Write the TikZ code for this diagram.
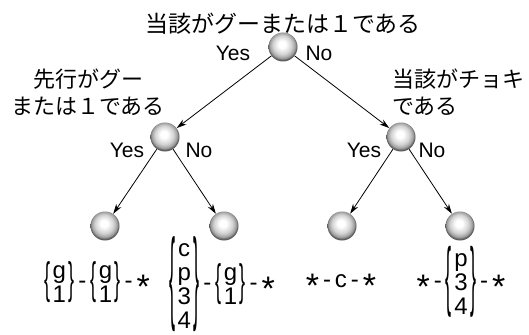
\documentclass[tikz,border=0pt]{standalone}
\usepackage{fontspec}
\usepackage{graphicx}
\setmainfont{Liberation Sans}
\newfontfamily\jp{Noto Sans CJK JP}
\usetikzlibrary{arrows.meta}

% soft grey sphere for the tree nodes
\pgfdeclareradialshading{sphere}{\pgfpoint{-2bp}{5bp}}{%
  color(0bp)=(white); color(6bp)=(white); color(16bp)=(gray!35);
  color(22bp)=(gray!75); color(25bp)=(black!65); color(50bp)=(black!65)}

% braced column of alternatives: #1 brace height, #2 rows
\newcommand{\brc}[2]{%
  $\vcenter{\hbox{\resizebox*{6pt}{#1}{\{}}}$%
  \raisebox{-3.6pt}{\begin{tabular}{@{\hspace{2.5pt}}c@{\hspace{2.5pt}}}#2\end{tabular}}%
  $\vcenter{\hbox{\resizebox*{6pt}{#1}{\}}}}$}
% hyphen separator and wildcard
\newcommand{\hy}{\hspace{4pt}-\hspace{4pt}}
\newcommand{\wild}{\raisebox{-10pt}{\fontsize{34}{34}\selectfont *}}

\begin{document}
\begin{tikzpicture}[x=1pt,y=-1pt,
  ball/.style={circle, minimum size=29pt, inner sep=0pt, shading=sphere},
  lbl/.style={font=\fontsize{21}{24}\selectfont, inner sep=0pt},
  jlbl/.style={font=\jp\fontsize{22}{27}\selectfont, inner sep=0pt},
  formula/.style={font=\fontsize{24}{24}\selectfont, inner sep=0pt, anchor=base},
  edge/.style={-{Stealth[length=10pt,width=6pt]}, line width=0.8pt}]
\useasboundingbox (0,0) rectangle (529,334);

% decision nodes
\node[ball] (root) at (283,47) {};
\node[ball] (L) at (165,137) {};
\node[ball] (R) at (401,137) {};
\node[ball] (LL) at (105,226) {};
\node[ball] (LR) at (224,226) {};
\node[ball] (RL) at (342,226) {};
\node[ball] (RR) at (460,226) {};

% branches
\draw[edge] (root) -- (L);
\draw[edge] (root) -- (R);
\draw[edge] (L) -- (LL);
\draw[edge] (L) -- (LR);
\draw[edge] (R) -- (RL);
\draw[edge] (R) -- (RR);

% questions
\node[jlbl, font=\jp\fontsize{23}{27}\selectfont] (q0) at (283,24) {当該がグーまたは１である};
\node[jlbl, align=center] (q1) at (88,92) {先行がグー\\または１である};
\node[jlbl, align=left, anchor=west] (q2) at (392,92) {当該がチョキ\\である};

% branch labels
\node[lbl] (y0) at (233,53) {Yes};
\node[lbl] (n0) at (319,53) {No};
\node[lbl] (y1) at (127,150) {Yes};
\node[lbl] (n1) at (199,150) {No};
\node[lbl] (y2) at (364,150) {Yes};
\node[lbl] (n2) at (432,150) {No};

% leaf patterns
\node[formula] (f1) at (97,288) {\brc{41pt}{g\\1}\hy\brc{41pt}{g\\1}\hy\wild};
\node[formula] (f2) at (222,290) {\brc{95pt}{c\\p\\3\\4}\hy\brc{41pt}{g\\1}\hy\wild};
\node[formula] (f3) at (341,287) {\wild\hy c\hy\wild};
\node[formula] (f4) at (461,288) {\wild\hy\brc{71pt}{p\\3\\4}\hy\wild};
\end{tikzpicture}
\end{document}
